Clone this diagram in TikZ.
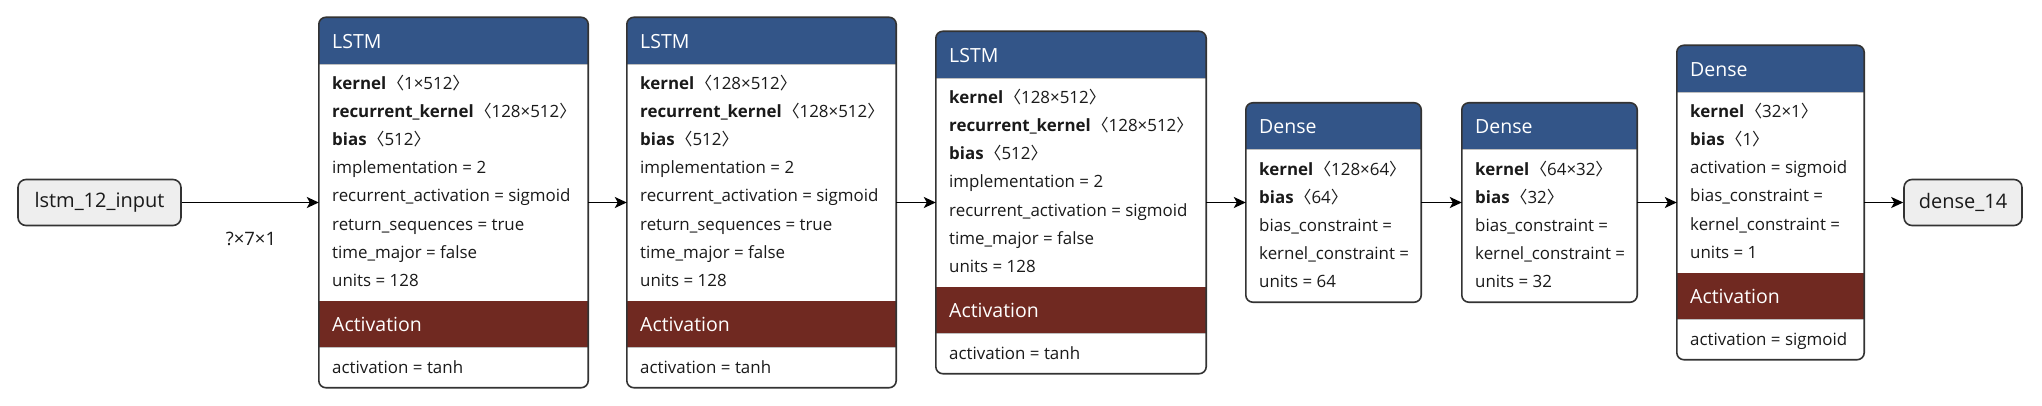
\documentclass[tikz,border=0pt]{standalone}
\usepackage{fontspec}
\setmainfont{Open Sans}
\newfontfamily\cjkf{Noto Sans CJK SC}
\usetikzlibrary{arrows.meta}
\definecolor{hblue}{HTML}{335588}
\definecolor{hred}{HTML}{702921}
\definecolor{framec}{HTML}{333333}
\definecolor{iofill}{HTML}{EEEEEE}
\definecolor{rowtext}{HTML}{1A1A1A}
\newcommand\sh[1]{\hspace{1pt}{\cjkf 〈}#1{\cjkf 〉}}
\tikzset{
  x=1pt, y=-1pt,
  boxline/.style={draw=framec, line width=1.6pt},
  framebox/.style={fill=white, draw=none, rounded corners=7pt, inner sep=0pt},
  ttl/.style={anchor=west, inner sep=0pt, text=white, font=\fontsize{19.5}{22}\selectfont, text height=14pt, text depth=0pt},
  rowt/.style={anchor=west, inner sep=0pt, text=rowtext, font=\fontsize{16.9}{18}\selectfont, text height=12pt, text depth=3pt},
  io/.style={draw=framec, line width=1.6pt, fill=iofill, rounded corners=8pt, inner sep=0pt, font=\fontsize{20}{22}\selectfont, text=rowtext},
  edge/.style={draw=black, line width=1.6pt, -{Stealth[length=12pt,width=11pt,inset=3pt]}},
  lbl/.style={inner sep=0pt, text=rowtext, font=\fontsize{18.5}{20}\selectfont},
  sepl/.style={draw=black!25, line width=1pt}
}
% name, x1, x2, title, nrows, rows, activation text (empty = none)
\newcommand\layer[7]{%
  \def\tmp{#7}%
  \ifx\tmp\empty
    \pgfmathsetmacro\hh{47+28*#5+12}%
  \else
    \pgfmathsetmacro\hh{47+28*#5+12+87}%
  \fi
  \pgfmathsetmacro\yt{202.5-\hh/2}%
  \pgfmathsetmacro\yb{202.5+\hh/2}%
  \pgfmathsetmacro\hb{\yt+47}%
  \pgfmathsetmacro\bb{\hb+28*#5+12}%
  \pgfmathsetmacro\ab{\bb+47}%
  \pgfmathsetmacro\cx{(#2+#3)/2}%
  \pgfmathsetmacro\ww{#3-#2}%
  \node[framebox, minimum width=\ww pt, minimum height=\hh pt] (#1) at (\cx,202.5) {};
  \begin{scope}
    \clip[rounded corners=7pt] (#2,\yt) rectangle (#3,\yb);
    \fill[hblue] (#2,\yt) rectangle (#3,\hb);
    \ifx\tmp\empty\else \fill[hred] (#2,\bb) rectangle (#3,\ab); \fi
  \end{scope}
  \draw[sepl] (#2,\hb) -- (#3,\hb);
  \ifx\tmp\empty\else \draw[sepl] (#2,\ab) -- (#3,\ab); \fi
  \draw[boxline, rounded corners=7pt] (#1.north west) rectangle (#1.south east);
  \node[ttl] (#1t) at (#2+13,\yt+24) {#4};
  \foreach \t [count=\i] in {#6} {
    \node[rowt] (#1r\i) at (#2+13,\hb+21+28*\i-28) {\t};
  }
  \ifx\tmp\empty\else
    \node[ttl] (#1a) at (#2+13,\bb+24) {Activation};
    \node[rowt] (#1av) at (#2+13,\ab+21) {#7};
  \fi
}
\begin{document}
\begin{tikzpicture}
\fill[white] (0,0) rectangle (2042,406);
\useasboundingbox (0,0) rectangle (2042,406);

\node[io, minimum width=163pt, minimum height=46pt] (inp) at (99.5,202.5) {lstm\_12\_input};

\layer{l1}{319}{588}{LSTM}{8}{{\textbf{kernel}\sh{1×512}},{\textbf{recurrent\_kernel}\sh{128×512}},{\textbf{bias}\sh{512}},{implementation = 2},{recurrent\_activation = sigmoid},{return\_sequences = true},{time\_major = false},{units = 128}}{activation = tanh}

\layer{l2}{627}{896}{LSTM}{8}{{\textbf{kernel}\sh{128×512}},{\textbf{recurrent\_kernel}\sh{128×512}},{\textbf{bias}\sh{512}},{implementation = 2},{recurrent\_activation = sigmoid},{return\_sequences = true},{time\_major = false},{units = 128}}{activation = tanh}

\layer{l3}{936}{1206}{LSTM}{7}{{\textbf{kernel}\sh{128×512}},{\textbf{recurrent\_kernel}\sh{128×512}},{\textbf{bias}\sh{512}},{implementation = 2},{recurrent\_activation = sigmoid},{time\_major = false},{units = 128}}{activation = tanh}

\layer{d1}{1246}{1421}{Dense}{5}{{\textbf{kernel}\sh{128×64}},{\textbf{bias}\sh{64}},{bias\_constraint =},{kernel\_constraint =},{units = 64}}{}

\layer{d2}{1462}{1637}{Dense}{5}{{\textbf{kernel}\sh{64×32}},{\textbf{bias}\sh{32}},{bias\_constraint =},{kernel\_constraint =},{units = 32}}{}

\layer{d3}{1677}{1864}{Dense}{6}{{\textbf{kernel}\sh{32×1}},{\textbf{bias}\sh{1}},{activation = sigmoid},{bias\_constraint =},{kernel\_constraint =},{units = 1}}{activation = sigmoid}

\node[io, minimum width=118pt, minimum height=46pt] (out) at (1963,202.5) {dense\_14};

\draw[edge] (inp) -- (l1);
\draw[edge] (l1) -- (l2);
\draw[edge] (l2) -- (l3);
\draw[edge] (l3) -- (d1);
\draw[edge] (d1) -- (d2);
\draw[edge] (d2) -- (d3);
\draw[edge] (d3) -- (out);
\node[lbl] (inlab) at (251,239) {?×7×1};
\end{tikzpicture}
\end{document}
